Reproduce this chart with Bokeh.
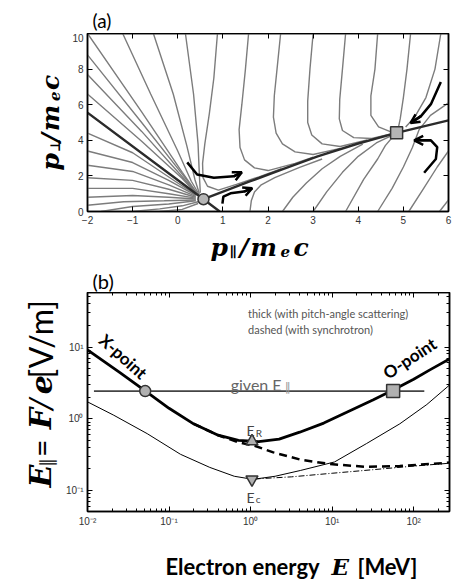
import math
from bokeh.plotting import figure
from bokeh.layouts import column, row
from bokeh.models import Range1d, LinearAxis, LogAxis, FixedTicker, Label, Arrow, OpenHead
from bokeh.embed import file_html
from bokeh.resources import INLINE

# ---------------- Panel (a): flow in (p_par, p_perp) ----------------
a_xticks = [-2, -1, 0, 1, 2, 3, 4, 5, 6]
a_yticks = [0, 2, 4, 6, 8, 10]

stream_x = [
    [-2, -0.8, 0.1, 0.45], [-2, -0.8, 0.1, 0.45], [-2, -0.8, 0.1, 0.45], [-2, -0.8, 0.1, 0.45],
    [-1.22, -0.6, 0.0, 0.3, 0.47], [-0.54, -0.1, 0.2, 0.38, 0.48], [0.17, 0.35, 0.45, 0.48, 0.5],
    [0.88, 0.8, 0.7, 0.6, 0.55, 0.56, 0.66, 0.9, 1.3, 1.8, 2.3],
    [1.57, 1.5, 1.42, 1.36, 1.38, 1.48, 1.7, 2.0, 2.6, 3.0],
    [2.28, 2.2, 2.14, 2.12, 2.18, 2.32, 2.6, 3.0, 3.6],
    [3.0, 2.93, 2.88, 2.88, 2.97, 3.2, 3.6, 4.2],
    [3.72, 3.65, 3.59, 3.58, 3.65, 3.9, 4.3, 4.7],
    [4.43, 4.37, 4.28, 4.28, 4.45, 4.75],
    [5.16, 5.08, 5.0, 4.93, 4.88],
    [5.83, 5.7, 5.5, 5.25, 5.05],
    [1.6, 1.63, 1.7, 1.85, 2.15, 2.7, 3.2],
    [2.32, 2.55, 2.85, 3.2, 3.6, 4.1],
    [3.0, 3.3, 3.65, 4.0, 4.4, 4.75],
    [3.72, 4.12, 4.43, 4.6, 4.8],
    [4.43, 4.75, 5.0, 5.2, 5.35, 5.6, 6.0],
    [5.12, 5.45, 5.75, 6.0],
    [5.8, 6.0],
    [-2, -1, 0, 0.4], [-2, -1, -0.2, 0.4], [-2, -1, -0.2, 0.4], [-2, -1, -0.2, 0.4],
    [-2, -1, -0.2, 0.4], [-2, -1, -0.2, 0.4], [-2, -1.2, -0.3, 0.4],
    [-1.7, -1, -0.2, 0.4], [-1.0, -0.4, 0.1, 0.45], [-0.4, 0.1, 0.45],
]
stream_y = [
    [10, 5.6, 2.2, 0.95], [8.8, 5.0, 2.1, 0.95], [7.7, 4.5, 1.95, 0.93], [6.6, 3.95, 1.85, 0.9],
    [10, 6.6, 3.4, 1.7, 0.97], [10, 6.6, 3.7, 1.8, 1.0], [10, 6.6, 3.8, 2.0, 1.05],
    [10, 7.5, 5.5, 3.8, 2.7, 1.9, 1.42, 1.2, 1.52, 1.95, 2.4],
    [10, 8.0, 6.0, 4.6, 3.6, 2.9, 2.45, 2.3, 2.7, 3.05],
    [10, 8.0, 6.5, 5.3, 4.4, 3.8, 3.35, 3.2, 3.55],
    [10, 8.0, 6.2, 5.0, 4.3, 3.8, 3.65, 4.02],
    [10, 8.0, 6.3, 5.2, 4.55, 4.15, 4.1, 4.35],
    [10, 8.0, 6.5, 5.4, 4.75, 4.45],
    [10, 8.0, 6.4, 5.2, 4.6],
    [10, 8.0, 6.4, 5.3, 4.75],
    [0, 0.6, 1.1, 1.5, 1.9, 2.48, 2.95],
    [0, 0.8, 1.6, 2.4, 3.1, 3.78],
    [0, 1.1, 2.2, 3.1, 3.85, 4.28],
    [0, 1.8, 2.95, 3.7, 4.3],
    [0, 1.3, 2.5, 3.6, 4.6, 5.4, 6.1],
    [0, 1.3, 2.5, 3.4],
    [0, 0.65],
    [4.4, 3.3, 1.6, 0.95], [3.4, 2.75, 1.75, 0.9], [2.6, 2.25, 1.5, 0.85], [1.9, 1.75, 1.25, 0.8],
    [1.3, 1.3, 1.0, 0.75], [0.8, 0.9, 0.8, 0.7], [0.35, 0.55, 0.6, 0.65],
    [0, 0.28, 0.42, 0.6], [0, 0.15, 0.32, 0.55], [0, 0.12, 0.45],
]
sep_left_x = [-2.0, 0.57, 0.93]
sep_left_y = [5.55, 0.69, 0.0]
sep_right_x = [0.57, 1.61, 2.3, 3.1, 4.0, 4.85, 6.0]
sep_right_y = [0.69, 1.7, 2.35, 3.1, 3.82, 4.42, 5.12]
xpt_a_x, xpt_a_y = [0.57], [0.69]
opt_a_x, opt_a_y = [4.85], [4.42]
arrow_x = [[0.21, 0.43, 0.8, 1.24, 1.42],
           [0.99, 1.01, 1.17, 1.47, 1.65],
           [5.83, 5.61, 5.39, 5.16],
           [5.46, 5.72, 5.75, 5.61, 5.24]]
arrow_y = [[2.76, 2.08, 1.9, 1.98, 2.2],
           [0.44, 0.83, 1.02, 1.12, 1.31],
           [7.28, 6.03, 5.36, 4.97],
           [2.18, 2.95, 3.62, 4.0, 4.0]]

# ---------------- Panel (b): threshold fields ----------------
b_xticks = [0.01, 0.1, 1, 10, 100]
b_xlabels = ["10\u207b\u00b2", "10\u207b\u00b9", "10\u2070", "10\u00b9", "10\u00b2"]
b_yticks = [0.1, 1, 10]
b_ylabels = ["10\u207b\u00b9", "10\u2070", "10\u00b9"]

E_thick = [0.01, 0.025, 0.051, 0.1, 0.2, 0.4, 0.71, 1.26, 2.24, 4.0, 7.9, 15.8, 31.6, 53.7, 100, 158, 275]
F_thick = [9.1, 4.4, 2.45, 1.4, 0.85, 0.59, 0.50, 0.48, 0.52, 0.65, 0.87, 1.26, 1.82, 2.45, 3.55, 4.8, 6.8]
E_thin = [0.01, 0.021, 0.054, 0.138, 0.316, 0.631, 1.07, 2.0, 4.07, 10.7, 26.3, 67.6, 145, 275]
F_thin = [1.72, 1.12, 0.62, 0.32, 0.21, 0.158, 0.143, 0.158, 0.19, 0.25, 0.45, 0.85, 1.58, 2.95]
E_dash = [0.2, 0.4, 0.71, 1.12, 1.9, 4.07, 9.3, 26.3, 67.6, 275]
F_dash = [0.85, 0.59, 0.47, 0.42, 0.34, 0.27, 0.234, 0.214, 0.219, 0.245]
E_dashthin = [1.12, 3.16, 10, 31.6, 100, 275]
F_dashthin = [0.145, 0.155, 0.174, 0.195, 0.219, 0.24]
E_given = [0.012, 135]
F_given = [2.43, 2.43]
xpt_b = ([0.051], [2.43])
opt_b = ([56], [2.43])
ER_pt = ([1.04], [0.485])
Ec_pt = ([1.04], [0.143])

SERIF = "DejaVu Serif"
SANS = "Lato"
R = math.pi / 2


def lab(p, text, x, y, size, font=SANS, style="normal", color="black", angle=0.0,
        units="data", align="left", baseline="alphabetic"):
    p.add_layout(Label(x=x, y=y, x_units=units, y_units=units, text=text,
                       text_font=font, text_font_style=style, text_font_size=size,
                       text_color=color, angle=angle, text_align=align,
                       text_baseline=baseline))


def strip(w, h):
    s = figure(width=w, height=h, x_range=Range1d(0, w), y_range=Range1d(0, h),
               x_axis_location=None, y_axis_location=None, output_backend="svg",
               toolbar_location=None, min_border=0)
    s.grid.visible = False
    s.outline_line_color = None
    return s


def style_axis(ax, show_labels=True):
    ax.axis_line_color = "black"
    ax.axis_line_width = 1.5
    ax.major_tick_in = 5
    ax.major_tick_out = 0
    ax.minor_tick_in = 3
    ax.minor_tick_out = 0
    ax.major_tick_line_color = "black"
    ax.minor_tick_line_color = "black"
    ax.axis_label = None
    if show_labels:
        ax.major_label_text_font = "Liberation Sans"
        ax.major_label_text_font_size = "10px"
        ax.major_label_text_color = "#333333"
        ax.major_label_standoff = 4
    else:
        ax.major_label_text_font_size = "1px"
        ax.major_label_text_alpha = 0.0
        ax.major_label_standoff = 0


# ---------- figure (a) ----------
p1 = figure(width=388, height=195, x_range=Range1d(-2, 6), y_range=Range1d(0, 10),
            output_backend="svg", toolbar_location=None,
            min_border_left=20, min_border_right=7, min_border_top=0, min_border_bottom=17)
p1.grid.visible = False
p1.outline_line_color = "black"
p1.outline_line_width = 1.5
p1.xaxis.ticker = FixedTicker(ticks=a_xticks)
p1.yaxis.ticker = FixedTicker(ticks=a_yticks)
for ax in p1.xaxis + p1.yaxis:
    style_axis(ax)
    ax.minor_tick_line_color = None
top1 = LinearAxis(ticker=FixedTicker(ticks=a_xticks))
right1 = LinearAxis(ticker=FixedTicker(ticks=a_yticks))
for ax in (top1, right1):
    style_axis(ax, False)
    ax.minor_tick_line_color = None
p1.add_layout(top1, "above")
p1.add_layout(right1, "right")

p1.multi_line(stream_x, stream_y, line_color="#7c7c7c", line_width=1.4)
p1.line(sep_left_x, sep_left_y, line_color="#2b2b2b", line_width=2.4)
p1.line(sep_right_x, sep_right_y, line_color="#2b2b2b", line_width=2.4)
for ax_, ay_ in zip(arrow_x, arrow_y):
    p1.line(ax_, ay_, line_color="black", line_width=2.5)
    p1.add_layout(Arrow(end=OpenHead(size=9, line_width=2.5, line_color="black"),
                        x_start=ax_[-2], y_start=ay_[-2], x_end=ax_[-1], y_end=ay_[-1],
                        line_width=2.5, line_color="black"))
p1.scatter(xpt_a_x, xpt_a_y, marker="circle", size=11, fill_color="#b5b5b5",
           line_color="#333333", line_width=1.5)
p1.scatter(opt_a_x, opt_a_y, marker="square", size=12, fill_color="#b5b5b5",
           line_color="#333333", line_width=1.5)

# text strips around (a)  (Bokeh's page has no body margin: layout starts at 0,0)
s_top = strip(455, 33)
lab(s_top, "(a)", 92, 13, "19px")

yl_a = strip(67, 195)
lab(yl_a, "p", 50, 45, "25px", SERIF, "bold italic", angle=R)
lab(yl_a, "\u22a5", 54, 65, "14px", SERIF, "bold", angle=R)
lab(yl_a, "/", 50, 76, "25px", SERIF, "bold italic", angle=R)
lab(yl_a, "m", 50, 88, "25px", SERIF, "bold italic", angle=R)
lab(yl_a, "e", 54, 121, "15px", SERIF, "bold italic", angle=R)
lab(yl_a, "c", 50, 133, "25px", SERIF, "bold italic", angle=R)

s_mid = strip(455, 64)
lab(s_mid, "p", 210, 45, "25px", SERIF, "bold italic")
lab(s_mid, "\u2225", 229, 41, "14px", SERIF, "bold")
lab(s_mid, "/", 239, 45, "25px", SERIF, "bold italic")
lab(s_mid, "m", 250, 45, "25px", SERIF, "bold italic")
lab(s_mid, "e", 280, 41, "15px", SERIF, "bold italic")
lab(s_mid, "c", 293, 45, "25px", SERIF, "bold italic")
lab(s_mid, "(b)", 92, 12, "20px")

# ---------- figure (b) ----------
p2 = figure(width=392, height=237, x_axis_type="log", y_axis_type="log",
            x_range=Range1d(0.01, 275), y_range=Range1d(0.051, 57.5),
            output_backend="svg", toolbar_location=None,
            min_border_left=24, min_border_right=6, min_border_top=0, min_border_bottom=16)
p2.grid.visible = False
p2.outline_line_color = "black"
p2.outline_line_width = 1.5
xminor = [m * 10.0 ** k for k in range(-2, 3) for m in range(2, 10)]
yminor = [m * 10.0 ** k for k in range(-2, 2) for m in range(2, 10)]
p2.xaxis.ticker = FixedTicker(ticks=b_xticks, minor_ticks=xminor)
p2.yaxis.ticker = FixedTicker(ticks=b_yticks, minor_ticks=yminor)
for ax in p2.xaxis + p2.yaxis:
    style_axis(ax)
p2.xaxis.major_label_overrides = dict(zip(b_xticks, b_xlabels))
p2.yaxis.major_label_overrides = dict(zip(b_yticks, b_ylabels))
top2 = LogAxis(ticker=FixedTicker(ticks=b_xticks, minor_ticks=xminor))
right2 = LogAxis(ticker=FixedTicker(ticks=b_yticks, minor_ticks=yminor))
for ax in (top2, right2):
    style_axis(ax, False)
p2.add_layout(top2, "above")
p2.add_layout(right2, "right")

p2.line(E_given, F_given, line_color="#444444", line_width=1.8)
p2.line(E_thin, F_thin, line_color="black", line_width=1.0)
p2.line(E_dashthin, F_dashthin, line_color="black", line_width=1.0, line_dash="6 2 1 2")
p2.line(E_dash, F_dash, line_color="black", line_width=2.5, line_dash="8 5")
p2.line(E_thick, F_thick, line_color="black", line_width=2.8)
p2.scatter(*xpt_b, marker="circle", size=11, fill_color="#b0b0b0", line_color="#333333", line_width=1.5)
p2.scatter(*opt_b, marker="square", size=13, fill_color="#b0b0b0", line_color="#333333", line_width=1.5)
p2.scatter(*ER_pt, marker="triangle", size=12, fill_color="#b0b0b0", line_color="#333333", line_width=1.5)
p2.scatter(*Ec_pt, marker="inverted_triangle", size=12, fill_color="#b0b0b0", line_color="#333333", line_width=1.5)

lab(p2, "X-point", 0.0275, 7.4, "17px", SANS, "bold", angle=-0.73, align="center", baseline="middle")
lab(p2, "O-point", 89, 7.0, "17px", SANS, "bold", angle=0.58, align="center", baseline="middle")
lab(p2, "given E", 2.4, 3.0, "16px", SANS, "normal", "#666666", align="right")
lab(p2, "\u2225", 2.6, 2.75, "12px", "DejaVu Sans", "normal", "#999999")
lab(p2, "E", 0.89, 0.68, "14px", SANS, "normal", "#444444")
lab(p2, "R", 1.16, 0.64, "10px", SANS, "normal", "#444444")
lab(p2, "E", 0.89, 0.079, "14px", SANS, "normal", "#444444")
lab(p2, "c", 1.16, 0.076, "10px", SANS, "normal", "#444444")
lab(p2, "thick (with pitch-angle scattering)", 0.93, 29.6, "11px", SANS, "normal", "#555555")
lab(p2, "dashed (with synchrotron)", 0.93, 17.7, "11px", SANS, "normal", "#555555")

yl_b = strip(63, 237)
lab(yl_b, "E", 40, 26, "30px", SERIF, "bold italic", angle=R)
lab(yl_b, "\u2225", 45, 48, "18px", SANS, "normal", angle=R)
lab(yl_b, "=", 40, 59, "30px", SANS, "normal", angle=R)
lab(yl_b, "F", 40, 89, "30px", SERIF, "bold italic", angle=R)
lab(yl_b, "/", 40, 111, "30px", SERIF, "italic", angle=R)
lab(yl_b, "e", 40, 127, "30px", SERIF, "bold italic", angle=R)
lab(yl_b, "[V/m]", 40, 144, "32px", SANS, "normal", angle=R)

s_bot = strip(455, 50)
lab(s_bot, "Electron energy", 165, 13, "22px", SANS, "bold")
lab(s_bot, "E", 331, 13, "23px", SERIF, "bold italic")
lab(s_bot, "[MeV]", 357, 13, "22px", SANS, "bold")

layout = column(s_top, row(yl_a, p1), s_mid, row(yl_b, p2), s_bot)
open("out.html", "w").write(file_html(layout, INLINE))
